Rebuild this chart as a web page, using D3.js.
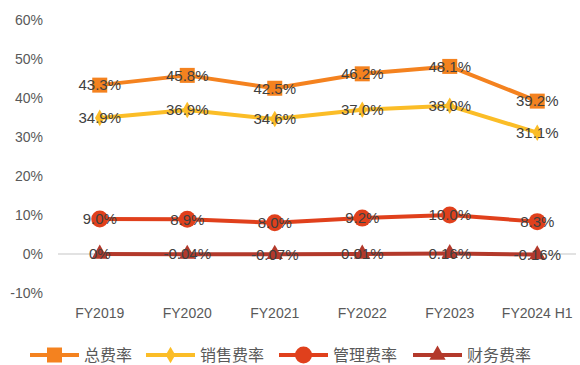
<!DOCTYPE html>
<html><head><meta charset="utf-8">
<script src="https://cdn.jsdelivr.net/npm/d3@7"></script>
<style>body{margin:0;background:#fff}svg{display:block}</style>
</head><body>
<svg id="c" width="580" height="365"></svg>
<script>
const categories = ["FY2019","FY2020","FY2021","FY2022","FY2023","FY2024 H1"];
const totalRate = [43.3,45.8,42.5,46.2,48.1,39.2];
const salesRate = [34.9,36.9,34.6,37.0,38.0,31.1];
const adminRate = [9.0,8.9,8.0,9.2,10.0,8.3];
const financeRate = [0,-0.04,-0.07,0.01,0.16,-0.16];
const totalLabels = ["43.3%","45.8%","42.5%","46.2%","48.1%","39.2%"];
const salesLabels = ["34.9%","36.9%","34.6%","37.0%","38.0%","31.1%"];
const adminLabels = ["9.0%","8.9%","8.0%","9.2%","10.0%","8.3%"];
const financeLabels = ["0%","-0.04%","-0.07%","0.01%","0.16%","-0.16%"];
const seriesNames = ["总费率","销售费率","管理费率","财务费率"];
const yTicks = [-10,0,10,20,30,40,50,60];

const series = [
  {name:seriesNames[0], values:totalRate, labels:totalLabels, color:"#F4821F", marker:"square"},
  {name:seriesNames[1], values:salesRate, labels:salesLabels, color:"#FBBD27", marker:"diamond"},
  {name:seriesNames[2], values:adminRate, labels:adminLabels, color:"#E0401C", marker:"circle"},
  {name:seriesNames[3], values:financeRate, labels:financeLabels, color:"#B3392B", marker:"triangle"}
];

const svg = d3.select("#c");
const font = "'Liberation Sans', Arial, sans-serif";
const x = d3.scaleBand().domain(categories).range([56, 581]);
const y = d3.scaleLinear().domain([-10,60]).range([293,20]);

// y axis labels
svg.append("g").selectAll("text").data(yTicks).join("text")
  .attr("x",43).attr("y",d=>y(d)).attr("dy","0.35em")
  .attr("text-anchor","end").attr("font-family",font).attr("font-size",14)
  .attr("fill","#595959").text(d=>d+"%");

// zero line
svg.append("line").attr("x1",58).attr("x2",576).attr("y1",y(0)).attr("y2",y(0))
  .attr("stroke","#D9D9D9").attr("stroke-width",1.5);

// x labels
svg.append("g").selectAll("text").data(categories).join("text")
  .attr("x",d=>x(d)+x.bandwidth()/2).attr("y",313).attr("dy","0.35em")
  .attr("text-anchor","middle").attr("font-family",font).attr("font-size",14)
  .attr("fill","#595959").text(d=>d);

function markerPath(type, size){
  if(type==="square") return d3.symbol(d3.symbolSquare, size*size)();
  if(type==="diamond") return d3.symbol(d3.symbolDiamond, size*size*0.55)();
  if(type==="circle") return d3.symbol(d3.symbolCircle, Math.PI*(size/2)*(size/2))();
  return d3.symbol(d3.symbolTriangle, size*size*0.45)();
}
const msize = {square:15, diamond:12, circle:17, triangle:16};

const line = d3.line().x((d,i)=>x(categories[i])+x.bandwidth()/2).y(d=>y(d));

series.forEach(s=>{
  const g = svg.append("g");
  g.append("path").datum(s.values).attr("d",line).attr("fill","none")
    .attr("stroke",s.color).attr("stroke-width",4).attr("stroke-linejoin","round");
  g.selectAll("path.m").data(s.values).join("path").attr("class","m")
    .attr("transform",(d,i)=>`translate(${x(categories[i])+x.bandwidth()/2},${y(d)})`)
    .attr("d",markerPath(s.marker,msize[s.marker])).attr("fill",s.color);
  g.selectAll("text").data(s.values).join("text")
    .attr("x",(d,i)=>x(categories[i])+x.bandwidth()/2)
    .attr("y",d=>y(d)).attr("dy","0.35em").attr("text-anchor","middle")
    .attr("font-family",font).attr("font-size",15).attr("fill","#404040")
    .text((d,i)=>s.labels[i]);
});

// legend
const legX = [30,146,279,413];
const lg = svg.append("g");
series.forEach((s,i)=>{
  const x0 = legX[i], yy = 355;
  lg.append("line").attr("x1",x0).attr("x2",x0+49).attr("y1",yy).attr("y2",yy)
    .attr("stroke",s.color).attr("stroke-width",4);
  lg.append("path").attr("transform",`translate(${x0+24.5},${yy})`)
    .attr("d",markerPath(s.marker,msize[s.marker])).attr("fill",s.color);
  lg.append("text").attr("x",x0+54).attr("y",yy).attr("dy","0.35em")
    .attr("font-family","'Noto Sans CJK SC', sans-serif").attr("font-size",16)
    .attr("fill","#595959").text(s.name);
});
</script>
</body></html>
